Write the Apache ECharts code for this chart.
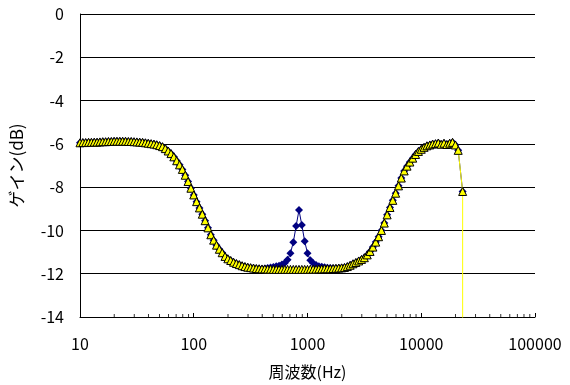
<!DOCTYPE html>
<html>
<head>
<meta charset="utf-8">
<script src="https://cdn.jsdelivr.net/npm/echarts@6/dist/echarts.min.js"></script>
<style>html,body{margin:0;padding:0;background:#fff}#c{width:570px;height:385px}</style>
</head>
<body>
<div id="c"></div>
<script>
var freqs = [
10, 10.59, 11.22, 11.89, 12.59, 13.34, 14.13, 14.96, 15.85, 16.79, 17.78, 18.84, 19.95, 21.13, 22.39, 23.71, 25.12, 26.61, 28.18, 29.85, 31.62, 33.5, 35.48, 37.58, 39.81, 42.17, 44.67, 47.32, 50.12, 53.09, 56.23, 59.57, 63.1, 66.83, 70.79, 74.99, 79.43, 84.14, 89.13, 94.41,
100, 105.9, 112.2, 118.9, 125.9, 133.4, 141.3, 149.6, 158.5, 167.9, 177.8, 188.4, 199.5, 211.3, 223.9, 237.1, 251.2, 266.1, 281.8, 298.5, 316.2, 335, 354.8, 375.8, 398.1, 421.7, 446.7, 473.2, 501.2, 530.9, 562.3, 595.7, 631, 668.3, 707.9, 749.9, 794.3, 841.4, 891.3, 944.1,
1000, 1059, 1122, 1189, 1259, 1334, 1413, 1496, 1585, 1679, 1778, 1884, 1995, 2113, 2239, 2371, 2512, 2661, 2818, 2985, 3162, 3350, 3548, 3758, 3981, 4217, 4467, 4732, 5012, 5309, 5623, 5957, 6310, 6683, 7079, 7499, 7943, 8414, 8913, 9441,
10000, 10590, 11220, 11890, 12590, 13340, 14130, 14960, 15850, 16790, 17780, 18840, 19950, 21130, 23120, 23120
];

var gainBlue = [
-5.95,-5.94,-5.94,-5.93,-5.93,-5.92,-5.92,-5.91,-5.90,-5.90,
-5.89,-5.89,-5.88,-5.88,-5.88,-5.88,-5.88,-5.89,-5.89,-5.90,
-5.91,-5.92,-5.93,-5.95,-5.97,-5.99,-6.01,-6.04,-6.08,-6.13,
-6.22,-6.33,-6.45,-6.60,-6.78,-6.97,-7.18,-7.45,-7.74,-8.05,
-8.36,-8.67,-8.96,-9.25,-9.55,-9.88,-10.20,-10.45,-10.68,-10.87,
-11.03,-11.20,-11.31,-11.39,-11.47,-11.53,-11.58,-11.63,-11.67,-11.70,
-11.72,-11.74,-11.76,-11.77,-11.78,-11.76,-11.74,-11.71,-11.69,-11.66,
-11.63,-11.58,-11.50,-11.35,-11.05,-10.55,-9.80,-9.06,-9.75,-10.50,
-11.05,-11.38,-11.52,-11.60,-11.65,-11.68,-11.70,-11.72,-11.74,-11.75,
-11.75,-11.74,-11.73,-11.71,-11.67,-11.61,-11.54,-11.48,-11.41,-11.34,
-11.26,-11.13,-10.97,-10.77,-10.54,-10.29,-10.00,-9.66,-9.28,-8.94,
-8.61,-8.28,-7.94,-7.58,-7.25,-7.03,-6.84,-6.66,-6.49,-6.35,
-6.25,-6.16,-6.09,-6.05,-6.01,-5.99,-5.96,-6.02,-5.97,-6.03,
-5.97,-5.93,-6.05,-6.30,-8.20,null
];

var gainYellow = [
-5.95,-5.94,-5.94,-5.93,-5.93,-5.92,-5.92,-5.91,-5.90,-5.90,
-5.89,-5.89,-5.88,-5.88,-5.88,-5.88,-5.88,-5.89,-5.89,-5.90,
-5.91,-5.92,-5.93,-5.95,-5.97,-5.99,-6.01,-6.04,-6.08,-6.13,
-6.22,-6.33,-6.45,-6.60,-6.78,-6.97,-7.18,-7.45,-7.74,-8.05,
-8.36,-8.67,-8.96,-9.25,-9.55,-9.88,-10.20,-10.45,-10.68,-10.87,
-11.03,-11.20,-11.31,-11.39,-11.47,-11.53,-11.58,-11.63,-11.67,-11.70,
-11.72,-11.74,-11.76,-11.77,-11.78,-11.78,-11.79,-11.79,-11.80,-11.80,
-11.80,-11.80,-11.80,-11.80,-11.80,-11.80,-11.80,-11.80,-11.80,-11.80,
-11.80,-11.79,-11.79,-11.79,-11.78,-11.78,-11.77,-11.77,-11.77,-11.76,
-11.75,-11.74,-11.73,-11.71,-11.67,-11.61,-11.54,-11.48,-11.41,-11.34,
-11.26,-11.13,-10.97,-10.77,-10.54,-10.29,-10.00,-9.66,-9.28,-8.94,
-8.61,-8.28,-7.94,-7.58,-7.25,-7.03,-6.84,-6.66,-6.49,-6.35,
-6.25,-6.16,-6.09,-6.05,-6.01,-5.99,-5.96,-6.02,-5.97,-6.03,
-5.97,-5.93,-6.05,-6.30,-8.20,-100
];

var minorTickFreqs = [20,30,40,50,60,70,80,90,200,300,400,500,600,700,800,900,2000,3000,4000,5000,6000,7000,8000,9000,20000,30000,40000,50000,60000,70000,80000,90000];
var yTicks = [0,-2,-4,-6,-8,-10,-12,-14];
var xAxisTitle = '周波数(Hz)';
var yAxisTitle = 'ゲイン(dB)';

function pairs(xs, ys){ var out=[]; for (var i=0;i<xs.length;i++) out.push([xs[i], ys[i]]); return out; }
var FONT = '"Noto Sans CJK JP", "Noto Sans", sans-serif';

var chart = echarts.init(document.getElementById('c'), null, {renderer:'canvas'});
chart.setOption({
  animation: false,
  backgroundColor: '#ffffff',
  grid: {left: 79, top: 14, right: 35, bottom: 68, containLabel: false},
  xAxis: {
    type: 'log', logBase: 10, min: 10, max: 100000,
    name: xAxisTitle, nameLocation: 'middle', nameGap: 47,
    nameTextStyle: {color:'#000', fontSize: 16, fontFamily: FONT},
    axisLine: {show: true, onZero: false, lineStyle: {color:'#000', width: 1}},
    axisTick: {show: true, inside: true, length: 4, lineStyle: {color:'#000'}},
    axisLabel: {color:'#000', fontSize: 16, fontFamily: FONT, margin: 19,
      formatter: function(v){ return String(Math.round(v)); }},
    splitLine: {show: false}
  },
  yAxis: {
    type: 'value', min: yTicks[yTicks.length-1], max: yTicks[0], interval: 2,
    name: yAxisTitle, nameLocation: 'middle', nameGap: 55, nameRotate: 90,
    nameTextStyle: {color:'#000', fontSize: 17, fontFamily: FONT},
    axisLine: {show: true, lineStyle: {color:'#000', width: 1}},
    axisTick: {show: false},
    axisLabel: {color:'#000', fontSize: 16, fontFamily: FONT, margin: 16},
    splitLine: {show: true, lineStyle: {color:'#000', width: 1}}
  },
  series: [
    {
      name: 'blue', type: 'line', data: pairs(freqs, gainBlue), connectNulls: false,
      symbol: 'diamond', symbolSize: 8, showSymbol: true,
      lineStyle: {color:'#000080', width: 1},
      itemStyle: {color:'#000080', borderWidth: 0},
      z: 2
    },
    {
      name: 'yellow', type: 'line', data: pairs(freqs, gainYellow),
      symbol: 'triangle', symbolSize: 8, showSymbol: true,
      lineStyle: {color:'#ffff00', width: 1},
      itemStyle: {color:'#ffff00', borderColor:'#000', borderWidth: 1},
      z: 3
    },
    {
      name: 'minorTicks', type: 'scatter', silent: true,
      data: minorTickFreqs.map(function(f){ return [f, yTicks[yTicks.length-1]]; }),
      symbol: 'rect', symbolSize: [1, 3], symbolOffset: [0, -1.5],
      itemStyle: {color:'#000'}, z: 4
    }
  ]
});
</script>
</body>
</html>
